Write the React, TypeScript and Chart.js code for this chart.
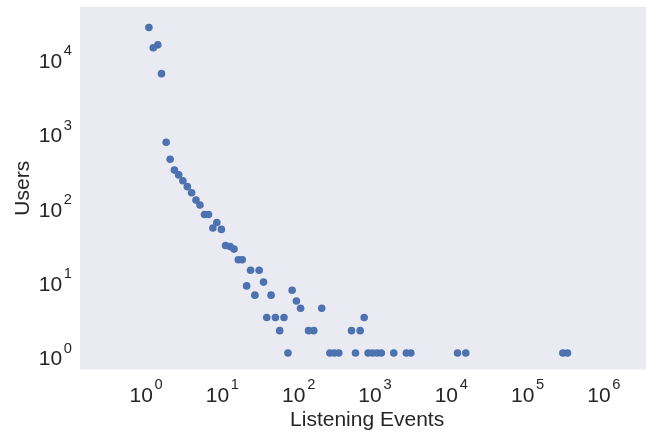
import { useEffect, useRef } from 'react';
import { Chart, registerables } from 'chart.js';

Chart.register(...registerables);

// Log-binned listening events per user: bin position and number of users in the bin
const listeningEvents = [
  1.088, 1.241, 1.424, 1.591, 1.832, 2.066, 2.35, 2.674, 3.032, 3.471,
  3.948, 4.504, 5.079, 5.832, 6.572, 7.499, 8.456, 9.705, 11.01, 12.6,
  14.21, 16.16, 18.21, 20.78, 23.43, 26.66, 30.33, 34.6, 38.19, 43.45,
  49.58, 56.4, 64.17, 72.35, 82.07, 93.33, 105.9, 134.6, 157.7, 200.5,
  256.4, 293.4, 335.7, 492.7, 555.7, 639.7, 721.4, 813.3, 930.7, 1065,
  1211, 1762, 2579, 2952, 12080, 15490, 289900, 333800,
];
const users = [
  24000, 12800, 14000, 5730, 686, 405, 289, 249, 208, 173,
  143, 114, 98, 73, 73, 48, 57, 46, 28, 27,
  25, 18, 18, 8, 13, 6, 13, 9, 3, 6,
  3, 2, 3, 1, 7, 5, 4, 2, 2, 4,
  1, 1, 1, 2, 1, 2, 3, 1, 1, 1,
  1, 1, 1, 1, 1, 1, 1, 1,
];

// Axis limits and labelled decades
const xLimits = [0.136, 4.57e6];
const yLimits = [0.6156, 45190];
const xDecades = [0, 1, 2, 3, 4, 5, 6];
const yDecades = [0, 1, 2, 3, 4];

const FONT = '"Liberation Sans", Arial, Helvetica, sans-serif';
const INK = '#262626';
const PANEL = '#EAEAF2';
const MARK = '#4C72B0';

function drawPower(
  ctx: CanvasRenderingContext2D,
  exp: number,
  x: number,
  baseline: number,
  align: 'center' | 'right'
) {
  const base = '10';
  const sup = String(exp);
  ctx.font = `21px ${FONT}`;
  const wBase = ctx.measureText(base).width;
  ctx.font = `14.7px ${FONT}`;
  const wSup = ctx.measureText(sup).width;
  const gap = 1.7;
  const total = wBase + gap + wSup;
  const start = align === 'center' ? x - total / 2 : x - total;
  ctx.textAlign = 'left';
  ctx.textBaseline = 'alphabetic';
  ctx.font = `21px ${FONT}`;
  ctx.fillText(base, start, baseline);
  ctx.font = `14.7px ${FONT}`;
  ctx.fillText(sup, start + wBase + gap, baseline - 12.4);
}

const panelBackground = {
  id: 'panelBackground',
  beforeDraw(chart: Chart) {
    const { ctx, chartArea } = chart;
    ctx.save();
    ctx.fillStyle = PANEL;
    ctx.fillRect(chartArea.left, chartArea.top, chartArea.right - chartArea.left, chartArea.bottom - chartArea.top);
    ctx.restore();
  },
};

const powerTickLabels = {
  id: 'powerTickLabels',
  afterDraw(chart: Chart) {
    const { ctx, chartArea } = chart;
    const xs = chart.scales.x;
    const ys = chart.scales.y;
    ctx.save();
    ctx.fillStyle = INK;
    for (const t of xs.ticks) {
      const exp = Math.round(Math.log10(t.value));
      drawPower(ctx, exp, xs.getPixelForValue(t.value), chartArea.bottom + 32.2, 'center');
    }
    for (const t of ys.ticks) {
      const exp = Math.round(Math.log10(t.value));
      drawPower(ctx, exp, chartArea.left - 8, ys.getPixelForValue(t.value) + 12.2, 'right');
    }
    ctx.restore();
  },
};

export default function App() {
  const canvasRef = useRef<HTMLCanvasElement | null>(null);

  useEffect(() => {
    if (!canvasRef.current) return;
    const points = listeningEvents.map((x, i) => ({ x, y: users[i] }));
    const chart = new Chart(canvasRef.current, {
      type: 'scatter',
      data: {
        datasets: [
          {
            data: points,
            backgroundColor: MARK,
            borderColor: MARK,
            borderWidth: 0,
            pointRadius: 3.8,
            pointHoverRadius: 3.8,
          },
        ],
      },
      options: {
        responsive: false,
        animation: false,
        devicePixelRatio: 1,
        layout: { padding: { left: 0, top: 7, right: 0, bottom: 0 } },
        plugins: {
          legend: { display: false },
          tooltip: { enabled: false },
        },
        scales: {
          x: {
            type: 'logarithmic',
            min: xLimits[0],
            max: xLimits[1],
            grid: { display: false, drawTicks: false, tickLength: 0 },
            border: { display: false },
            ticks: { display: false },
            afterBuildTicks: (scale: any) => {
              scale.ticks = xDecades.map((d) => ({ value: Math.pow(10, d) }));
            },
            title: {
              display: true,
              text: 'Listening Events',
              color: INK,
              font: { family: FONT, size: 21, lineHeight: 1.2 },
              padding: { top: 38.3, bottom: 0 },
            },
          },
          y: {
            type: 'logarithmic',
            min: yLimits[0],
            max: yLimits[1],
            grid: { display: false, drawTicks: false, tickLength: 0 },
            border: { display: false },
            ticks: { display: false },
            afterBuildTicks: (scale: any) => {
              scale.ticks = yDecades.map((d) => ({ value: Math.pow(10, d) }));
            },
            title: {
              display: true,
              text: 'Users',
              color: INK,
              font: { family: FONT, size: 21, lineHeight: 1.2 },
              padding: { top: 10.8, bottom: 44 },
            },
          },
        },
      },
      plugins: [panelBackground, powerTickLabels],
    });
    return () => chart.destroy();
  }, []);

  return (
    <div
      style={{
        position: 'fixed',
        left: 0,
        top: 0,
        width: 646,
        height: 433,
        overflow: 'hidden',
        background: '#ffffff',
      }}
    >
      <canvas ref={canvasRef} width={658} height={433} style={{ display: 'block', width: 658, height: 433 }} />
    </div>
  );
}
